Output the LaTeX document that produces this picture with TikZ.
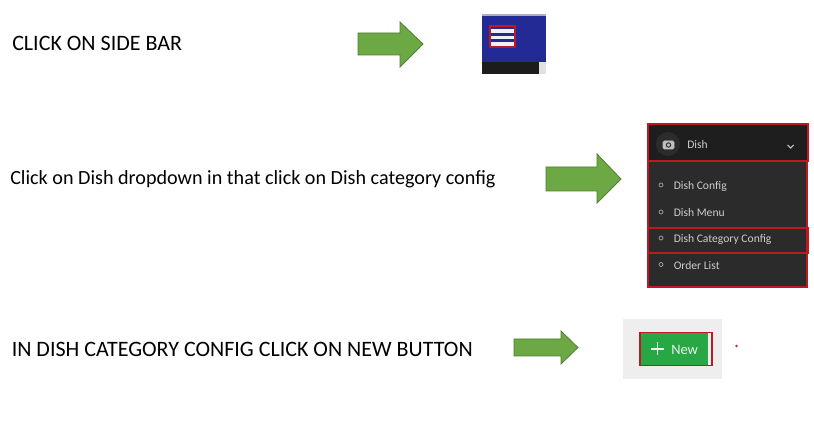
\documentclass[tikz,border=0pt]{standalone}
\usepackage{fontspec}
\setmainfont{Carlito}
\tikzset{
  greenarrow/.style={draw={rgb,255:red,80;green,126;blue,50},line width=0.6pt,fill={rgb,255:red,108;green,168;blue,68}},
  redbox/.style={draw={rgb,255:red,190;green,25;blue,35},line width=0.85pt},
  steptext/.style={anchor=west,inner sep=0.75pt,font=\fontsize{15.1}{18}\selectfont},
  capstext/.style={anchor=west,inner sep=0.75pt,font=\fontsize{16.5}{20}\selectfont},
  menutext/.style={anchor=west,inner sep=0.75pt,text={rgb,255:red,205;green,205;blue,205},font=\fontsize{8.7}{10}\selectfont},
  menudot/.style={draw={rgb,255:red,170;green,170;blue,170},line width=0.5pt}
}
\begin{document}
\begin{tikzpicture}[x=0.75pt,y=0.75pt,yscale=-1]
\useasboundingbox (0,0) rectangle (814,434);

%Arrows
\draw [greenarrow] (358,33) -- (400,33) -- (400,22) -- (423,44) -- (400,67) -- (400,55) -- (358,55) -- cycle ;
\draw [greenarrow] (546,167) -- (597,167) -- (597,154) -- (621,179) -- (597,203) -- (597,191) -- (546,191) -- cycle ;
\draw [greenarrow] (514,339) -- (561,339) -- (561,331) -- (578,347.5) -- (561,364) -- (561,356) -- (514,356) -- cycle ;

%Side bar
\fill [color={rgb,255:red,170;green,175;blue,185}] (482,14.5) rectangle (546,16) ;
\fill [color={rgb,255:red,35;green,42;blue,150}] (482,16) rectangle (546,62) ;
\fill [color={rgb,255:red,28;green,28;blue,28}] (482,62) rectangle (539,74) ;
\fill [color={rgb,255:red,225;green,225;blue,228}] (539,62) rectangle (546,74) ;
\foreach \y in {31,37.5,44} {
  \draw [color={rgb,255:red,240;green,240;blue,245},line width=2.3pt] (491,\y) -- (514,\y) ;
}
\draw [redbox] (490,26) rectangle (515,47) ;

%Dish menu
\fill [color={rgb,255:red,43;green,43;blue,43}] (648,124) rectangle (807,287) ;
\fill [color={rgb,255:red,30;green,30;blue,30}] (648,124) rectangle (807,161) ;
\fill [color={rgb,255:red,44;green,44;blue,44}] (668,144) circle (12) ;
\draw [draw={rgb,255:red,190;green,190;blue,190},fill={rgb,255:red,190;green,190;blue,190},rounded corners=1pt] (663,141) rectangle (674,149) ;
\draw [draw={rgb,255:red,40;green,40;blue,40},line width=0.7pt] (668.5,145) circle (2.2) ;
\draw [draw={rgb,255:red,200;green,200;blue,200},line width=0.8pt] (787.5,145) -- (790.5,148) -- (793.5,145) ;
\foreach \y in {185,212,238,264.5} {
  \draw [menudot] (661,\y) circle (2) ;
}
\draw [redbox] (648,124) rectangle (808,161) ;
\draw [redbox] (648,228) rectangle (808,253) ;
\draw [redbox] (648,161) -- (648,287) -- (807,287) -- (807,161) ;

%New button
\fill [color={rgb,255:red,238;green,238;blue,238}] (623,319) rectangle (722,379) ;
\draw [redbox] (640,332.5) rectangle (712,365.5) ;
\fill [color={rgb,255:red,40;green,167;blue,69}] (640.5,333) rectangle (708,365) ;
\draw [color={rgb,255:red,235;green,245;blue,235},line width=1pt] (651,349) -- (664,349) (657.5,342.5) -- (657.5,355.5) ;
\fill [color={rgb,255:red,215;green,30;blue,50}] (736.5,346) circle (1.3) ;

% Text Node
\node (sidebartext) [capstext] at (11,43.5) {CLICK ON SIDE BAR};
% Text Node
\node (dishtext) [steptext] at (9,179) {Click on Dish dropdown in that click on Dish category config};
% Text Node
\node (newtext) [capstext] at (10.5,349.5) {IN DISH CATEGORY CONFIG CLICK ON NEW BUTTON};
% Text Node
\node (dishlabel) [menutext] at (686,145) {Dish};
\node (configlabel) [menutext] at (672.5,186) {Dish Config};
\node (menulabel) [menutext] at (672.5,212.5) {Dish Menu};
\node (categorylabel) [menutext] at (672.5,239) {Dish Category Config};
\node (orderlabel) [menutext] at (672.5,265.5) {Order List};
\node (newlabel) [anchor=west,inner sep=0.75pt,text={rgb,255:red,235;green,245;blue,235},font=\fontsize{10.8}{12}\selectfont] at (670,350) {New};
\end{tikzpicture}
\end{document}
